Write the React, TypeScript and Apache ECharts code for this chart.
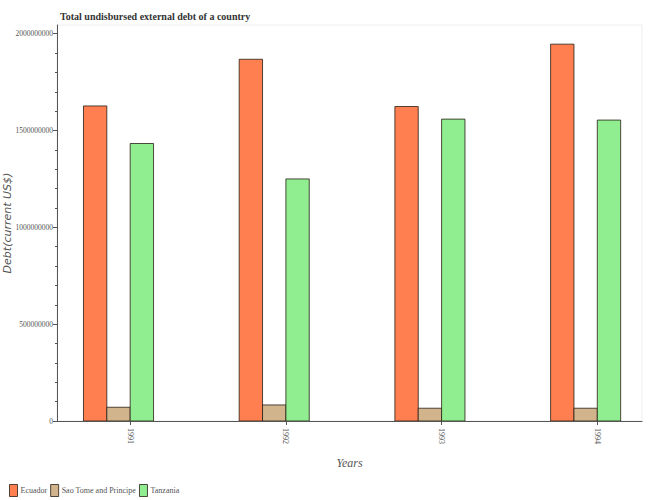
import React, { useEffect, useRef } from "react";
import * as echarts from "echarts";

const years = [1991, 1992, 1993, 1994];
const ecuador = [1627000000, 1868000000, 1624000000, 1946000000];
const saoTome = [71000000, 83000000, 66000000, 66000000];
const tanzania = [1433000000, 1250000000, 1559000000, 1554000000];
const yMajorTicks = [0, 500000000, 1000000000, 1500000000, 2000000000];
const yMinorTicks = Array.from({ length: 21 }, (_, i) => i * 100000000);

const seriesDefs = [
  { name: "Ecuador", values: ecuador, offset: -0.3, color: "#FF7F50" },
  { name: "Sao Tome and Principe", values: saoTome, offset: -0.15, color: "#D2B48C" },
  { name: "Tanzania", values: tanzania, offset: 0, color: "#90EE90" },
];
const barW = 0.15;
const stroke = "rgba(40,30,20,0.8)";
const serif = "'Liberation Serif', serif";

export default function App() {
  const ref = useRef<HTMLDivElement>(null);
  useEffect(() => {
    if (!ref.current) return;
    const chart = echarts.init(ref.current, undefined, { renderer: "svg" });
    const series = seriesDefs.map((d) => ({
      type: "custom",
      name: d.name,
      xAxisIndex: 0,
      yAxisIndex: 0,
      clip: true,
      itemStyle: { color: d.color, borderColor: stroke, borderWidth: 1 },
      encode: { x: 0, y: 1 },
      data: years.map((y, i) => [y, d.values[i]]),
      renderItem: (params: any, api: any) => {
        const x = api.value(0) + d.offset;
        const v = api.value(1);
        const p0 = api.coord([x, v]);
        const p1 = api.coord([x + barW, 0]);
        return {
          type: "rect",
          shape: { x: p0[0], y: p0[1], width: p1[0] - p0[0], height: p1[1] - p0[1] },
          style: { fill: d.color, stroke, lineWidth: 1 },
        };
      },
    }));
    chart.setOption({
      animation: false,
      backgroundColor: "#fff",
      title: {
        text: "Total undisbursed external debt of a country",
        left: 55,
        top: 6,
        textStyle: { fontFamily: serif, fontWeight: "bold", fontSize: 10, color: "#333" },
      },
      legend: {
        data: seriesDefs.map((d) => d.name),
        left: 4,
        top: 479,
        icon: "rect",
        itemWidth: 8,
        itemHeight: 12,
        itemGap: 3,
        textStyle: { fontFamily: serif, fontSize: 8, color: "#555", padding: [0, 0, 0, -2] },
        itemStyle: { borderColor: stroke, borderWidth: 1 },
      },
      grid: {
        left: 57,
        right: 8,
        top: 25,
        bottom: 79,
        show: true,
        borderColor: "#eee",
        borderWidth: 1,
        backgroundColor: "#fff",
        containLabel: false,
        outerBoundsMode: "none",
      },
      xAxis: {
        type: "value",
        min: 1990.53,
        max: 1994.287,
        name: "Years",
        nameLocation: "middle",
        nameGap: 36,
        nameMoveOverlap: false,
        nameTextStyle: { fontFamily: serif, fontStyle: "italic", fontSize: 12, color: "#555" },
        axisLine: { show: true, lineStyle: { color: "#555", width: 1 } },
        axisTick: { show: true, length: 4, customValues: years, lineStyle: { color: "#555" } },
        axisLabel: {
          customValues: years,
          rotate: -90,
          fontSize: 8,
          fontFamily: serif,
          color: "#555",
          margin: 7,
          formatter: (v: number) => String(v),
        },
        splitLine: { show: false },
      },
      yAxis: [
        {
          type: "value",
          min: 0,
          max: 2045000000,
          name: "Debt(current US$)",
          nameLocation: "middle",
          nameGap: 44,
          nameMoveOverlap: false,
          nameTextStyle: {
            fontFamily: "'DejaVu Sans', sans-serif",
            fontStyle: "italic",
            fontSize: 11,
            color: "#555",
          },
          axisLine: { show: true, lineStyle: { color: "#555", width: 1 } },
          axisTick: { show: true, length: 4, customValues: yMajorTicks, lineStyle: { color: "#555" } },
          axisLabel: {
            customValues: yMajorTicks,
            fontSize: 7.5,
            fontFamily: serif,
            color: "#555",
            margin: 4,
            formatter: (v: number) => String(v),
          },
          splitLine: { show: false },
        },
        {
          type: "value",
          min: 0,
          max: 2045000000,
          position: "left",
          axisLine: { show: false },
          axisTick: { show: true, length: 2, customValues: yMinorTicks, lineStyle: { color: "#555" } },
          axisLabel: { show: false },
          splitLine: { show: false },
        },
      ],
      series,
    });
    return () => chart.dispose();
  }, []);
  return (
    <div
      ref={ref}
      style={{ position: "absolute", left: 0, top: 0, width: 650, height: 500 }}
    />
  );
}
